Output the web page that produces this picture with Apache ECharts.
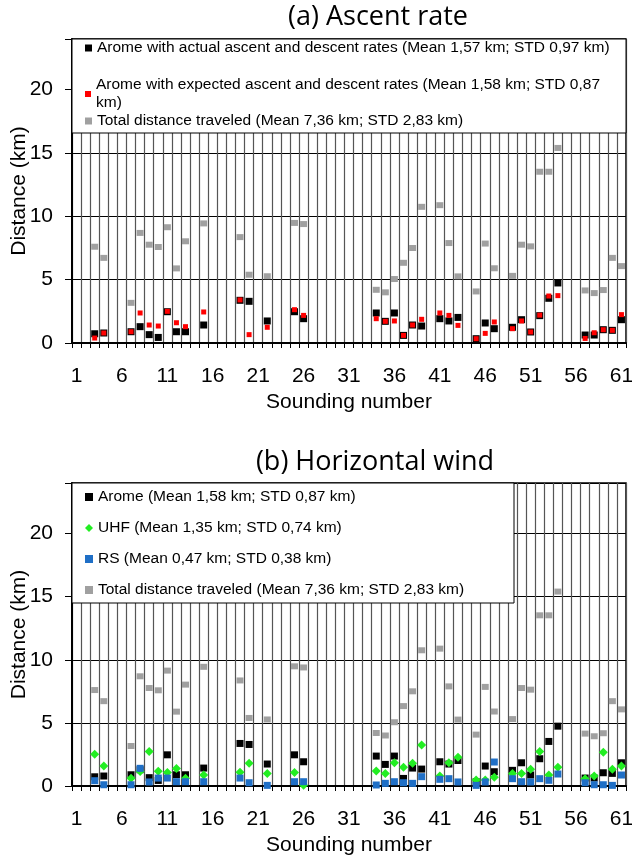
<!DOCTYPE html>
<html>
<head>
<meta charset="utf-8">
<script src="https://cdn.jsdelivr.net/npm/echarts@6/dist/echarts.min.js"></script>
<style>
html,body{margin:0;padding:0;background:#fff;}
#chart{width:632px;height:860px;}
</style>
</head>
<body>
<div id="chart"></div>
<script>
const categories = ['1','2','3','4','5','6','7','8','9','10','11','12','13','14','15','16','17','18','19','20',
  '21','22','23','24','25','26','27','28','29','30','31','32','33','34','35','36','37','38','39','40',
  '41','42','43','44','45','46','47','48','49','50','51','52','53','54','55','56','57','58','59','60','61'];

// Total distance traveled (km)
const totalDistance = [null,null,7.6,6.72,null,null,3.17,8.69,7.76,7.58,9.14,5.89,8.03,null,9.44,null,null,null,8.36,5.39,
  null,5.27,null,null,9.48,9.39,null,null,null,null,null,null,null,4.2,4.0,5.05,6.33,7.5,10.75,null,
  10.88,7.89,5.26,null,4.07,7.85,5.9,null,5.3,7.76,7.63,13.52,13.52,15.4,null,null,4.15,3.94,4.18,6.72,6.07];

// Arome with actual ascent and descent rates (km)
const aromeActual = [null,null,0.73,0.79,null,null,0.89,1.29,0.66,0.44,2.47,0.89,0.89,null,1.42,null,null,null,3.37,3.29,
  null,1.74,null,null,2.47,1.92,null,null,null,null,null,null,null,2.37,1.71,2.37,0.6,1.42,1.34,null,
  1.92,1.74,2.02,null,0.34,1.58,1.13,null,1.24,1.84,0.87,2.16,3.53,4.74,null,null,0.63,0.63,1.05,1.0,1.84];

// Arome with expected ascent and descent rates (km)
const aromeExpected = [null,null,0.39,0.79,null,null,0.89,2.37,1.42,1.34,2.5,1.6,1.29,null,2.45,null,null,null,3.4,0.66,
  null,1.24,null,null,2.63,2.18,null,null,null,null,null,null,null,1.92,1.71,1.74,0.6,1.42,1.87,null,
  2.37,2.18,1.39,null,0.34,0.76,1.66,null,1.13,1.74,0.87,2.2,3.71,3.74,null,null,0.36,0.81,1.05,1.0,2.24];

// UHF (km)
const uhf = [null,null,2.52,1.59,null,null,0.61,1.14,2.73,1.16,1.06,1.38,0.61,null,0.87,null,null,null,1.09,1.8,
  null,1.0,null,null,1.06,0.05,null,null,null,null,null,null,null,1.19,1.0,1.85,1.48,1.8,3.25,null,
  0.79,1.85,2.28,null,0.48,0.48,0.69,null,1.0,1.0,1.32,2.73,0.87,1.48,null,null,0.58,0.79,2.67,1.32,1.59];

// RS (km)
const rs = [null,null,0.42,0.1,null,null,0.1,1.4,0.32,0.63,0.63,0.34,0.34,null,0.34,null,null,null,0.63,0.26,
  null,0.05,null,null,0.34,0.34,null,null,null,null,null,null,null,0.08,0.21,0.34,0.26,0.21,0.74,null,
  0.53,0.58,0.32,null,0.05,0.32,1.9,null,0.58,0.34,0.32,0.58,0.45,0.95,null,null,0.26,0.1,0.1,0.05,0.87];

const yTicks = [0, 5, 10, 15, 20];

const nameA1 = 'Arome with actual ascent and descent rates (Mean 1,57 km; STD 0,97 km)';
const nameA2 = 'Arome with expected ascent and descent rates (Mean 1,58 km; STD 0,87\nkm)';
const nameA3 = 'Total distance traveled (Mean 7,36 km; STD 2,83 km)';
const nameB1 = 'Arome (Mean 1,58 km; STD 0,87 km)';
const nameB2 = 'UHF (Mean 1,35 km; STD 0,74 km)';
const nameB3 = 'RS (Mean 0,47 km; STD 0,38 km)';
const nameB4 = 'Total distance traveled (Mean 7,36 km; STD 2,83 km)';

const C_BLACK = '#000000', C_RED = '#ff0000', C_GRAY = '#a0a0a0', C_GREEN = '#22ee22', C_BLUE = '#1f6fc6';
const FONT = 'Liberation Sans';

function toPairs(arr){ return arr.map((v,i)=> v==null ? null : [categories[i], v]); }

function xAxis(gridIndex){
  return {
    type:'category', gridIndex, data:categories, boundaryGap:true,
    axisLine:{show:true, lineStyle:{color:'#000', width:2}},
    axisTick:{show:true, interval:0, length:5, lineStyle:{color:'#000', width:1}},
    axisLabel:{interval:4, color:'#000', fontSize:21, fontFamily:FONT, margin:23},
    splitLine:{show:true, interval:0, lineStyle:{color:'#555', width:1.2}},
    name:'Sounding number', nameLocation:'middle', nameGap:49, nameMoveOverlap:false,
    nameTextStyle:{color:'#000', fontSize:21, fontFamily:FONT}
  };
}
function yAxis(gridIndex){
  return {
    type:'value', gridIndex, min:0, max:24, interval:5,
    axisLine:{show:true, lineStyle:{color:'#000', width:2}},
    axisTick:{show:true, length:7, lineStyle:{color:'#000'}},
    axisLabel:{color:'#000', fontSize:21, fontFamily:FONT, margin:19,
      formatter: v => yTicks.indexOf(v) >= 0 ? String(v) : ''},
    splitLine:{show:true, lineStyle:{color:'#000', width:1}},
    name:'Distance (km)', nameLocation:'middle', nameGap:42, nameRotate:90, nameMoveOverlap:false,
    nameTextStyle:{color:'#000', fontSize:21, fontFamily:FONT}
  };
}
function scatter(name, data, xi, color, symbol, size, z){
  return {type:'scatter', name, xAxisIndex:xi, yAxisIndex:xi, data:toPairs(data),
    symbol, symbolSize:size, itemStyle:{color, opacity:1}, z, silent:true, animation:false};
}
const legendText = {color:'#000', fontSize:15.5, fontFamily:FONT, lineHeight:18};

const option = {
  backgroundColor:'#fff',
  animation:false,
  title:[
    {text:'(a) Ascent rate', left:373, top:-1, textAlign:'center',
      textStyle:{fontFamily:'Open Sans', fontWeight:'normal', fontSize:27, color:'#000'}},
    {text:'(b) Horizontal wind', left:370, top:444, textAlign:'center',
      textStyle:{fontFamily:'Open Sans', fontWeight:'normal', fontSize:27, color:'#000'}}
  ],
  grid:[
    {left:72, right:6, top:39, height:304, show:true, borderColor:'#000', borderWidth:1.5, containLabel:false, outerBoundsMode:'none'},
    {left:72, right:6, top:483, height:303, show:true, borderColor:'#000', borderWidth:1.5, containLabel:false, outerBoundsMode:'none'}
  ],
  xAxis:[xAxis(0), xAxis(1)],
  yAxis:[yAxis(0), yAxis(1)],
  graphic:[
    {type:'rect', shape:{x:72, y:39, width:554, height:94}, style:{fill:'#fff', stroke:'#000', lineWidth:1}, z:10},
    {type:'rect', shape:{x:72, y:483, width:442, height:120}, style:{fill:'#fff', stroke:'#000', lineWidth:1}, z:10}
  ],
  legend:[
    {data:[{name:nameA1, icon:'rect'}], left:85, top:39, padding:0, itemWidth:7, itemHeight:7, textStyle:legendText, z:20, selectedMode:false},
    {data:[{name:nameA2, icon:'rect'}], left:85, top:76, padding:0, itemWidth:6, itemHeight:6, textStyle:legendText, z:20, selectedMode:false},
    {data:[{name:nameA3, icon:'rect'}], left:85, top:112, padding:0, itemWidth:7, itemHeight:7, textStyle:legendText, z:20, selectedMode:false},
    {data:[{name:nameB1, icon:'rect'},{name:nameB2, icon:'diamond'},{name:nameB3, icon:'rect'},{name:nameB4, icon:'rect'}],
      orient:'vertical', left:85, top:489, padding:0, itemGap:15, itemWidth:8, itemHeight:8,
      textStyle:{color:'#000', fontSize:15.5, fontFamily:FONT}, z:20, selectedMode:false}
  ],
  series:[
    scatter(nameA3, totalDistance, 0, C_GRAY, 'rect', [7,6], 3),
    scatter(nameA1, aromeActual, 0, C_BLACK, 'rect', [7,7], 4),
    scatter(nameA2, aromeExpected, 0, C_RED, 'rect', [5,5], 5),
    scatter(nameB1, aromeActual, 1, C_BLACK, 'rect', [7,7], 3),
    scatter(nameB2, uhf, 1, C_GREEN, 'diamond', [9,9], 4),
    scatter(nameB3, rs, 1, C_BLUE, 'rect', [7,7], 5),
    scatter(nameB4, totalDistance, 1, C_GRAY, 'rect', [7,6], 6)
  ]
};
const chart = echarts.init(document.getElementById('chart'), null, {renderer:'canvas'});
chart.setOption(option);
</script>
</body>
</html>
